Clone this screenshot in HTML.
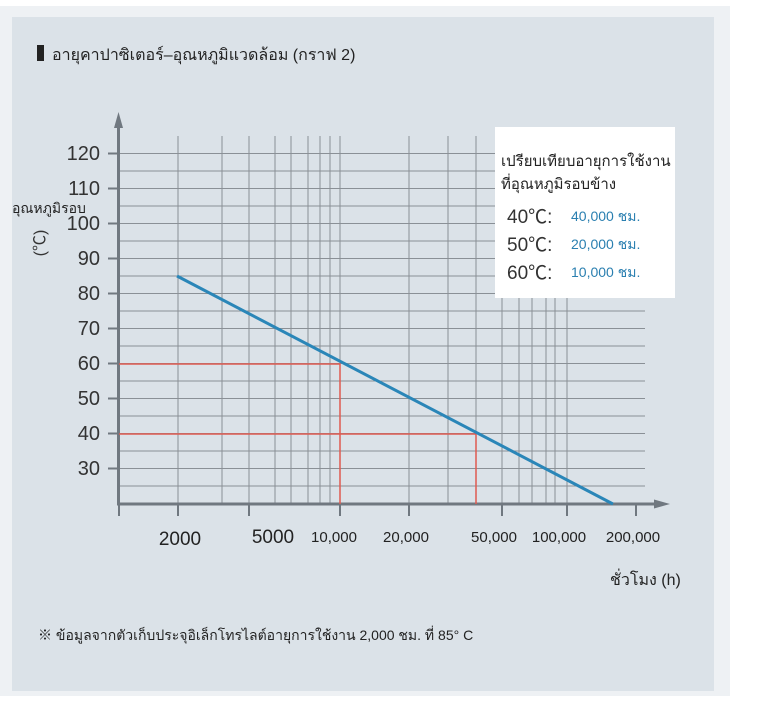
<!DOCTYPE html>
<html><head><meta charset="utf-8"><style>
body{margin:0;background:#fff;}
svg text{font-family:"Liberation Sans","Noto Sans CJK SC",sans-serif;}
</style></head><body>
<svg width="784" height="701" xmlns="http://www.w3.org/2000/svg">
<rect x="0" y="0" width="784" height="701" fill="#fff"/>
<rect x="0" y="6" width="730" height="690" fill="#eef1f4"/>
<rect x="12" y="17" width="702" height="674" fill="#dbe2e8"/>
<rect x="37" y="45" width="7" height="16" fill="#222"/>
<text x="52" y="60" font-size="16" fill="#222">อายุคาปาซิเตอร์–อุณหภูมิแวดล้อม (กราฟ 2)</text>
<g stroke="#8a9096" stroke-width="1">
<path d="M119 153.5H645M119 171H645M119 188.5H645M119 206H645M119 223.5H645M119 241H645M119 258.5H645M119 276H645M119 293.5H645M119 311H645M119 328.5H645M119 346H645M119 363.5H645M119 381H645M119 398.5H645M119 416H645M119 433.5H645M119 451H645M119 468.5H645M119 486H645"/>
<path d="M178 136V504M222 136V504M249 136V504M275 136V504M291 136V504M308 136V504M320 136V504M330 136V504M340 136V504M409 136V504M448 136V504M476 136V504M502 136V504M519 136V504M532 136V504M546 136V504M555 136V504M567 136V504"/>
</g>
<g stroke="#707880" stroke-width="2">
<path d="M108 153.5H119M108 188.5H119M108 223.5H119M108 258.5H119M108 293.5H119M108 328.5H119M108 363.5H119M108 398.5H119M108 433.5H119M108 468.5H119"/>
<path d="M119 504V516M178 504V516M249 504V516M340 504V516M409 504V516M502 504V516M567 504V516M636 504V516"/>
</g>
<path d="M118.5 504V125" stroke="#707880" stroke-width="3"/>
<polygon points="118.5,112 114,128 123,128" fill="#707880"/>
<path d="M117 504H656" stroke="#707880" stroke-width="3"/>
<polygon points="670,504 654,499.5 654,508.5" fill="#707880"/>
<g stroke="#e05a50" stroke-width="1.5" fill="none">
<path d="M119 364H340V504"/><path d="M119 434H476V504"/>
</g>
<path d="M177 276L613 504" stroke="#2a86b8" stroke-width="3"/>
<rect x="495" y="127" width="180" height="171" fill="#fff"/>
<text x="501" y="166" font-size="15" fill="#222">เปรียบเทียบอายุการใช้งาน</text>
<text x="501" y="189" font-size="15" fill="#222">ที่อุณหภูมิรอบข้าง</text>
<g font-size="19" fill="#333"><text x="507" y="223">40℃:</text><text x="507" y="251">50℃:</text><text x="507" y="279">60℃:</text></g>
<g font-size="14" fill="#2a7fb0"><text x="571" y="221">40,000 ชม.</text><text x="571" y="249">20,000 ชม.</text><text x="571" y="277">10,000 ชม.</text></g>
<g font-size="20" fill="#333" text-anchor="end">
<text x="100" y="160">120</text><text x="100" y="195">110</text><text x="100" y="230">100</text><text x="100" y="265">90</text><text x="100" y="300">80</text><text x="100" y="335">70</text><text x="100" y="370">60</text><text x="100" y="405">50</text><text x="100" y="440">40</text><text x="100" y="475">30</text>
</g>
<text x="12" y="213" font-size="14" fill="#222">อุณหภูมิรอบ</text>
<text transform="translate(45,243) rotate(-90)" font-size="16" fill="#333" text-anchor="middle">(℃)</text>
<g fill="#222" text-anchor="middle">
<text x="180" y="545" font-size="19">2000</text><text x="273" y="543" font-size="19">5000</text>
<text x="334" y="542" font-size="15">10,000</text><text x="406" y="542" font-size="15">20,000</text>
<text x="494" y="542" font-size="15">50,000</text><text x="559" y="542" font-size="15">100,000</text><text x="633" y="542" font-size="15">200,000</text>
</g>
<text x="610" y="585" font-size="16" fill="#222">ชั่วโมง (h)</text>
<text x="38" y="640" font-size="14" fill="#222">※  ข้อมูลจากตัวเก็บประจุอิเล็กโทรไลต์อายุการใช้งาน 2,000 ชม. ที่ 85°  C</text>
</svg>
</body></html>
